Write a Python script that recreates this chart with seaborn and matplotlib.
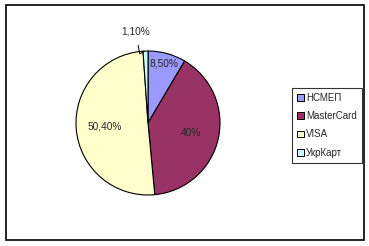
import matplotlib
matplotlib.use("Agg")
import matplotlib.pyplot as plt
import seaborn as sns
import numpy as np
from matplotlib.patches import Rectangle, Patch

sns.set_theme(style="white")
plt.rcParams['font.family'] = ['Liberation Sans', 'DejaVu Sans']

categories = ["НСМЕП", "MasterCard", "VISA", "УкрКарт"]
values = [8.5, 40.0, 50.4, 1.1]
labels = ["8,50%", "40%", "50,40%", "1,10%"]
colors = ["#9999FF", "#993366", "#FFFFCC", "#CCFFFF"]
label_dist = [0.86, 0.61, 0.6, None]

W, H = 369, 246
fig = plt.figure(figsize=(W / 100, H / 100), dpi=100)
fig.patch.set_facecolor("white")

# outer chart border
fig.add_artist(Rectangle((5.5 / W, 6 / H), 358.5 / W, 235 / H, transform=fig.transFigure,
                         fill=False, edgecolor="black", linewidth=1.2))

cx, cy, r = 148, 123, 72
ax = fig.add_axes([(cx - r) / W, (H - cy - r) / H, 2 * r / W, 2 * r / H])
wedges, _ = ax.pie(values, colors=colors, startangle=90, counterclock=False,
                   wedgeprops=dict(edgecolor="black", linewidth=0.8), radius=1.0)
ax.set_xlim(-1, 1)
ax.set_ylim(-1, 1)
ax.set_aspect("equal")
ax.axis("off")

for w, lab, d in zip(wedges, labels, label_dist):
    ang = np.deg2rad((w.theta1 + w.theta2) / 2)
    if d is not None:
        ax.text(d * np.cos(ang), d * np.sin(ang), lab, ha="center", va="center", fontsize=7.3)
    else:
        ex, ey = 1.0 * np.cos(ang), 1.0 * np.sin(ang)
        ax.annotate(lab, xy=(ex, ey), xytext=(-0.17, 1.27), ha="center", va="center",
                    fontsize=7.3, annotation_clip=False,
                    arrowprops=dict(arrowstyle="-", color="black", lw=0.7,
                                    shrinkA=4, shrinkB=1,
                                    connectionstyle="angle,angleA=-80,angleB=25,rad=0"))

handles = [Patch(facecolor=c, edgecolor="black", linewidth=0.7) for c in colors]
leg = fig.legend(handles, categories, loc="upper left",
                 bbox_to_anchor=(292 / W, 1 - 88 / H), bbox_transform=fig.transFigure,
                 fontsize=7.0, frameon=True, fancybox=False, handlelength=0.7,
                 handleheight=0.7, handletextpad=0.25, labelspacing=0.85,
                 borderpad=0.5, borderaxespad=0)
leg.get_frame().set_edgecolor("black")
leg.get_frame().set_linewidth(0.8)

fig.savefig("out.png", dpi=100, facecolor="white")
